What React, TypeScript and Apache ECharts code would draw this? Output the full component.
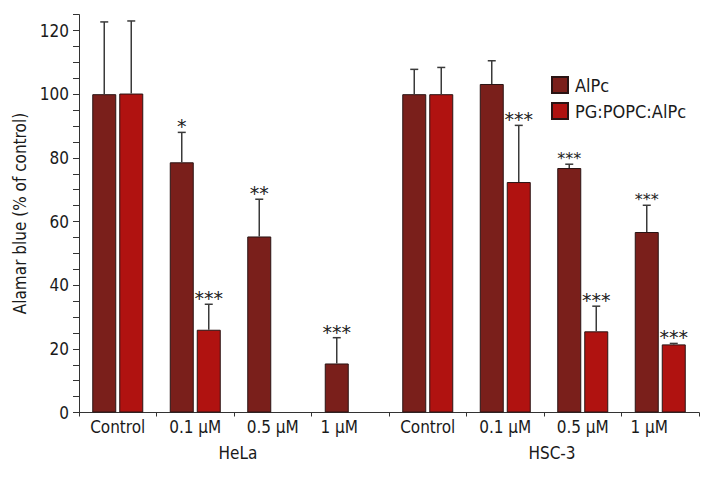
import React, { useEffect, useRef } from "react";
import * as echarts from "echarts";

const categories = ["Control", "0.1 µM", "0.5 µM", "1 µM", "Control", "0.1 µM", "0.5 µM", "1 µM"];
const groups = ["HeLa", "HSC-3"];
const seriesNames = ["AlPc", "PG:POPC:AlPc"];
const alpcValues = [100, 78.6, 55.3, 15.4, 100, 103.2, 76.8, 56.7];
const alpcErrors = [22.7, 9.4, 11.7, 8.1, 7.8, 7.3, 1.2, 8.4];
const alpcSig = ["", "*", "**", "***", "", "", "***", "***"];
const pgValues: (number | null)[] = [100.2, 26.0, null, null, 100, 72.4, 25.5, 21.4];
const pgErrors: (number | null)[] = [22.8, 8.0, null, null, 8.4, 17.8, 7.9, 0.3];
const pgSig = ["", "***", "", "", "", "***", "***", "***"];
const yTickLabels = [0, 20, 40, 60, 80, 100, 120];

const FONT = "'Liberation Sans Narrow', 'DejaVu Sans Condensed', 'Liberation Sans', sans-serif";
const BAR_W = 24;
const BAR_GAP_PX = 3;
const COLORS = ["#7a1f1b", "#b01210"];
const SMALL_STAR = new Set(["AlPc-6", "AlPc-7"]);

function errorSeries(name: string, values: (number | null)[], errs: (number | null)[], sig: string[], side: number) {
  const data: any[] = [];
  values.forEach((v, i) => {
    if (v == null) return;
    data.push({ value: [i, v, errs[i] ?? 0], sig: sig[i], key: name + "-" + i });
  });
  const offset = side * (BAR_W + BAR_GAP_PX) / 2;
  return {
    type: "custom",
    name: name + "-err",
    z: 5,
    silent: true,
    encode: { x: 0, y: 1 },
    data,
    renderItem: (params: any, api: any) => {
      const item = data[params.dataIndex];
      const cat = api.value(0);
      const val = api.value(1);
      const err = api.value(2);
      const base = api.coord([cat, val]);
      const top = api.coord([cat, val + err]);
      const x = base[0] + offset;
      const children: any[] = [
        { type: "line", shape: { x1: x, y1: base[1], x2: x, y2: top[1] }, style: { stroke: "#3a3a3a", lineWidth: 1.5 } },
        { type: "line", shape: { x1: x - 4, y1: top[1], x2: x + 4, y2: top[1] }, style: { stroke: "#3a3a3a", lineWidth: 1.5 } },
      ];
      if (item.sig) {
        const small = SMALL_STAR.has(item.key);
        children.push({
          type: "text",
          x,
          y: top[1] - 6,
          style: {
            text: item.sig,
            fontFamily: "'DejaVu Sans', sans-serif",
            fontSize: small ? 16 : 19,
            fill: "#222",
            align: "center",
            verticalAlign: "middle",
          },
        });
      }
      return { type: "group", children };
    },
  };
}

export default function App() {
  const ref = useRef<HTMLDivElement>(null);
  useEffect(() => {
    if (!ref.current) return;
    const chart = echarts.init(ref.current, null, { renderer: "svg" });
    const labelStyle = { fontFamily: FONT, fontSize: 17, color: "#1a1a1a" };
    chart.setOption({
      animation: false,
      backgroundColor: "#ffffff",
      textStyle: { fontFamily: FONT },
      grid: { left: 79, right: 21, top: 14.6, bottom: 67.5, containLabel: false },
      legend: {
        orient: "vertical",
        left: 551,
        top: 76,
        itemWidth: 16,
        itemHeight: 16,
        itemGap: 8,
        padding: 0,
        icon: "rect",
        data: seriesNames,
        textStyle: { fontFamily: FONT, fontSize: 18, color: "#1a1a1a", padding: [0, 0, 0, 2] },
      },
      xAxis: [
        {
          type: "category",
          data: categories,
          axisLine: { lineStyle: { color: "#333", width: 1 } },
          axisTick: { show: true, interval: 0, length: 4, lineStyle: { color: "#333" } },
          axisLabel: {
            ...labelStyle,
            interval: 0,
            margin: 6,
            formatter: (v: string) => (v === "1 µM" ? `{s|${v}}` : v),
            rich: { s: { ...labelStyle, padding: [0, 22, 0, 0] } },
          },
        },
        {
          type: "category",
          data: groups,
          position: "bottom",
          axisLine: { show: false },
          axisTick: { show: false },
          axisLabel: {
            ...labelStyle,
            margin: 32,
            formatter: (v: string) => (v === "HSC-3" ? `{b|${v}}` : `{a|${v}}`),
            rich: {
              a: { ...labelStyle, padding: [0, 0, 0, 8] },
              b: { ...labelStyle, padding: [0, 0, 0, 16] },
            },
          },
        },
      ],
      yAxis: {
        type: "value",
        min: 0,
        max: 125,
        interval: 5,
        name: "Alamar blue (% of control)",
        nameLocation: "middle",
        nameGap: 38,
        nameTextStyle: { ...labelStyle },
        axisLine: { show: true, lineStyle: { color: "#333", width: 1 } },
        axisTick: { show: true, length: 6, lineStyle: { color: "#333" } },
        splitLine: { show: false },
        axisLabel: {
          ...labelStyle,
          margin: 10,
          formatter: (v: number) => (yTickLabels.includes(v) ? String(v) : ""),
        },
      },
      series: [
        {
          type: "bar",
          name: seriesNames[0],
          data: alpcValues,
          barWidth: BAR_W,
          barGap: `${(BAR_GAP_PX / BAR_W) * 100}%`,
          itemStyle: { color: COLORS[0], borderColor: "#2a1414", borderWidth: 1 },
        },
        {
          type: "bar",
          name: seriesNames[1],
          data: pgValues.map((v) => (v == null ? "-" : v)),
          barWidth: BAR_W,
          barGap: `${(BAR_GAP_PX / BAR_W) * 100}%`,
          itemStyle: { color: COLORS[1], borderColor: "#2a1414", borderWidth: 1 },
        },
        errorSeries("AlPc", alpcValues, alpcErrors, alpcSig, -1),
        errorSeries("PG", pgValues, pgErrors, pgSig, 1),
      ],
    });
    return () => chart.dispose();
  }, []);
  return (
    <div
      ref={ref}
      style={{ position: "fixed", left: 0, top: 0, width: 720, height: 480, background: "#fff" }}
    />
  );
}
